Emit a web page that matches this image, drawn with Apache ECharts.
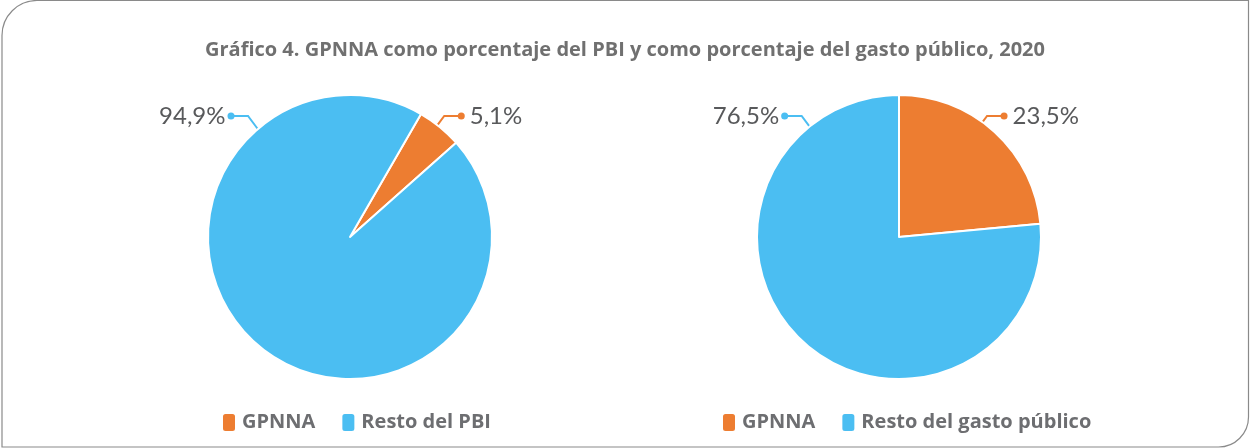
<!DOCTYPE html>
<html>
<head>
<meta charset="utf-8">
<script src="https://cdn.jsdelivr.net/npm/echarts@6/dist/echarts.min.js"></script>
<style>
  html, body { margin: 0; padding: 0; background: #fff; }
  #chart { width: 1250px; height: 448px; }
</style>
</head>
<body>
<div id="chart"></div>
<script>
// datos
const titulo = "Gráfico 4. GPNNA como porcentaje del PBI y como porcentaje del gasto público, 2020";
const categoriasPBI = ["GPNNA", "Resto del PBI"];
const valoresPBI = [5.1, 94.9];
const categoriasGasto = ["GPNNA", "Resto del gasto público"];
const valoresGasto = [23.5, 76.5];

const naranja = "#ED7D31";
const celeste = "#4BBEF2";
const gris = "#58595b";

// geometria de las tortas
const radio = 142;
const centros = [[350, 237], [899, 237]];
const angulos = [60, 90]; // startAngle de cada torta
// angulo (grados desde arriba) donde arranca cada linea de etiqueta: [GPNNA, resto]
const anclas = [[38, 40.5], [36, 39]];

const chart = echarts.init(document.getElementById("chart"));

const fmt = v => v.toFixed(1).replace(".", ",") + "%";

function labelTorta(p) {
  // dato 0 (GPNNA) a la derecha, dato 1 (resto) a la izquierda
  if (p.dataIndex === 0) return "{dn|}{vr|" + fmt(p.value) + "}";
  return "{vl|" + fmt(p.value) + "}{dc|}";
}

// ubica etiquetas arriba, a ambos lados del eje vertical
function layoutEtiqueta(params) {
  const [cx, cy] = centros[params.seriesIndex];
  const derecha = params.dataIndex === 0;
  const s = derecha ? 1 : -1;
  const a = anclas[params.seriesIndex][params.dataIndex] * Math.PI / 180;
  const px = cx + s * radio * Math.sin(a);
  const py = cy - radio * Math.cos(a);
  const ey = cy - radio + 21;
  const codo = [px + s * 0.75 * (py - ey), ey];
  const fin = [codo[0] + s * 17, ey];
  return {
    x: fin[0] - s * 3.5,
    y: ey,
    align: derecha ? "left" : "right",
    verticalAlign: "middle",
    labelLinePoints: [[px, py], codo, fin]
  };
}

const textoEtiqueta = { fontFamily: "Lato", fontSize: 24, color: gris, verticalAlign: "middle" };
const richLabel = {
  vr: Object.assign({}, textoEtiqueta, { padding: [0, 0, 0, 5] }),
  vl: Object.assign({}, textoEtiqueta, { padding: [0, 2, 0, 0] }),
  dn: { width: 7, height: 7, borderRadius: 3.5, backgroundColor: naranja, verticalAlign: "middle" },
  dc: { width: 7, height: 7, borderRadius: 3.5, backgroundColor: celeste, verticalAlign: "middle" }
};

function serieTorta(idx, cats, vals) {
  return {
    type: "pie",
    radius: radio,
    center: centros[idx],
    startAngle: angulos[idx],
    clockwise: true,
    avoidLabelOverlap: false,
    animation: false,
    itemStyle: { borderColor: "#fff", borderWidth: 2 },
    label: { show: true, formatter: labelTorta, rich: richLabel },
    labelLine: { show: true, lineStyle: { width: 2 } },
    labelLayout: layoutEtiqueta,
    data: cats.map((c, i) => ({
      name: c,
      value: vals[i],
      itemStyle: { color: i === 0 ? naranja : celeste }
    }))
  };
}

const leyendaBase = {
  orient: "horizontal",
  top: 412,
  padding: 0,
  icon: "roundRect",
  itemWidth: 14,
  itemHeight: 19,
  itemGap: 25,
  selectedMode: false,
  textStyle: { fontFamily: "Open Sans", fontWeight: "bold", fontSize: 20, color: "#6d6e71", padding: [0, 0, 0, 1] }
};

const option = {
  backgroundColor: "#fff",
  color: [naranja, celeste],
  title: {
    text: titulo,
    left: "center",
    top: 35,
    textStyle: { fontFamily: "Open Sans", fontWeight: "bold", fontSize: 20, color: "#707070" }
  },
  legend: [
    Object.assign({}, leyendaBase, { left: 221, data: categoriasPBI }),
    Object.assign({}, leyendaBase, { left: 721, data: categoriasGasto })
  ],
  graphic: [{
    type: "rect",
    silent: true,
    shape: { x: 2, y: 0.5, width: 1246.5, height: 446.5, r: [35, 0, 30, 0] },
    style: { fill: "none", stroke: "#8a8a8a", lineWidth: 1.2 }
  }],
  series: [
    serieTorta(0, categoriasPBI, valoresPBI),
    serieTorta(1, categoriasGasto, valoresGasto)
  ]
};

chart.setOption(option);
</script>
</body>
</html>
